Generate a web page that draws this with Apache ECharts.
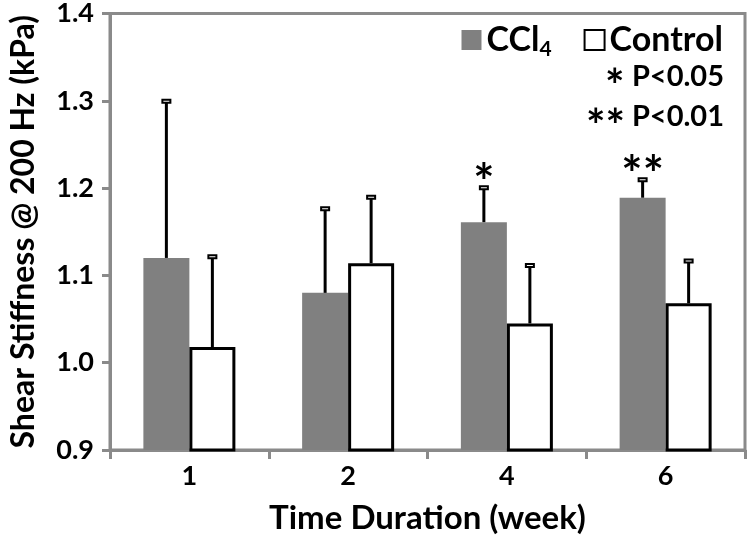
<!DOCTYPE html>
<html><head><meta charset="utf-8">
<script src="https://cdn.jsdelivr.net/npm/echarts@6/dist/echarts.min.js"></script>
<style>html,body{margin:0;padding:0;background:#fff}#c{width:750px;height:540px}</style>
</head><body><div id="c"></div>
<script>
var categories = ['1', '2', '4', '6'];
var ccl4Mean = [1.12, 1.08, 1.161, 1.189];
var ccl4Err = [0.18, 0.097, 0.04, 0.021];
var controlMean = [1.018, 1.114, 1.045, 1.068];
var controlErr = [0.104, 0.076, 0.067, 0.049];
var sigMarks = ['', '', '*', '**'];
var yTicks = [0.9, 1.0, 1.1, 1.2, 1.3, 1.4];

var FONT = 'Lato';
var BARW = 46;
var chart = echarts.init(document.getElementById('c'), null, {renderer: 'canvas'});

function errSeries(name, means, errs, side, marks) {
  return {
    type: 'custom', name: name + ' err', z: 5,
    data: means.map(function (m, i) { return [i, m, m + errs[i]]; }),
    renderItem: function (params, api) {
      var i = api.value(0);
      var p0 = api.coord([i, api.value(1)]);
      var p1 = api.coord([i, api.value(2)]);
      var x = p0[0] + side * BARW / 2;
      var children = [
        {type: 'line', shape: {x1: x, y1: p0[1], x2: x, y2: p1[1]}, style: {stroke: '#000', lineWidth: 3}},
        {type: 'rect', shape: {x: x - 4, y: p1[1] - 1, width: 8, height: 3}, style: {fill: '#fff', stroke: '#000', lineWidth: 2}}
      ];
      var mk = marks ? marks[i] : '';
      if (mk) {
        children.push({type: 'text', x: x, y: p1[1] + 22, style: {text: mk, x: 0, y: 0, align: 'center', verticalAlign: 'bottom',
          fontSize: 50, fontWeight: 'bold', fontFamily: FONT, fill: '#000', lineHeight: 50}});
      }
      return {type: 'group', children: children};
    }
  };
}

chart.setOption({
  animation: false,
  backgroundColor: '#fff',
  grid: {left: 108, right: 5, top: 13, bottom: 83, show: true, borderColor: '#8a8a8a', borderWidth: 3, backgroundColor: 'transparent'},
  legend: {
    right: 22, top: 18, itemWidth: 20, itemHeight: 20, itemGap: 32, icon: 'rect',
    data: ['CCl4', 'Control'],
    formatter: function (n) { return n === 'CCl4' ? '{a|CCl}{s|4}' : '{a|Control}'; },
    textStyle: {
      fontFamily: FONT, fontWeight: 'bold', fontSize: 34, color: '#000',
      rich: {a: {fontFamily: FONT, fontWeight: 'bold', fontSize: 34, color: '#000'},
             s: {fontFamily: FONT, fontWeight: 'bold', fontSize: 21, color: '#000', verticalAlign: 'bottom', padding: [18, 0, 0, 0]}}
    }
  },
  xAxis: {
    type: 'category', data: categories,
    name: 'Time Duration (week)', nameLocation: 'middle', nameGap: 52,
    nameTextStyle: {fontFamily: FONT, fontWeight: 'bold', fontSize: 33, color: '#000'},
    axisLine: {lineStyle: {color: '#8a8a8a', width: 3}},
    axisTick: {show: true, length: 9, lineStyle: {color: '#8a8a8a', width: 3}},
    axisLabel: {fontFamily: FONT, fontWeight: 'bold', fontSize: 27, color: '#000', margin: 13}
  },
  yAxis: {
    type: 'value', min: 0.9, max: 1.4, interval: 0.1,
    name: 'Shear Stiffness @ 200 Hz (kPa)', nameLocation: 'middle', nameGap: 70,
    nameTextStyle: {fontFamily: FONT, fontWeight: 'bold', fontSize: 32, color: '#000'},
    axisLine: {show: true, lineStyle: {color: '#8a8a8a', width: 3}},
    axisTick: {show: true, length: 8, lineStyle: {color: '#8a8a8a', width: 3}},
    splitLine: {show: false},
    axisLabel: {fontFamily: FONT, fontWeight: 'bold', fontSize: 27, color: '#000', margin: 16,
      formatter: function (v) { return v.toFixed(1); }}
  },
  graphic: [
    {type: 'text', right: 26, top: 62, style: {text: 'P<0.05', font: 'bold 29px ' + FONT, fill: '#000'}},
    {type: 'text', left: 605, top: 64, style: {text: '*', font: 'bold 46px ' + FONT, fill: '#000'}},
    {type: 'text', right: 26, top: 102, style: {text: 'P<0.01', font: 'bold 29px ' + FONT, fill: '#000'}},
    {type: 'text', left: 586, top: 104, style: {text: '**', font: 'bold 46px ' + FONT, fill: '#000'}}
  ],
  series: [
    {name: 'CCl4', type: 'bar', data: ccl4Mean, barWidth: BARW, barGap: '0%',
      itemStyle: {color: '#808080'}},
    {name: 'Control', type: 'bar', data: controlMean, barWidth: BARW, barGap: '0%',
      itemStyle: {color: '#fff', borderColor: '#000', borderWidth: 3}},
    errSeries('CCl4', ccl4Mean, ccl4Err, -1, sigMarks),
    errSeries('Control', controlMean, controlErr, 1, null)
  ]
});
</script></body></html>
